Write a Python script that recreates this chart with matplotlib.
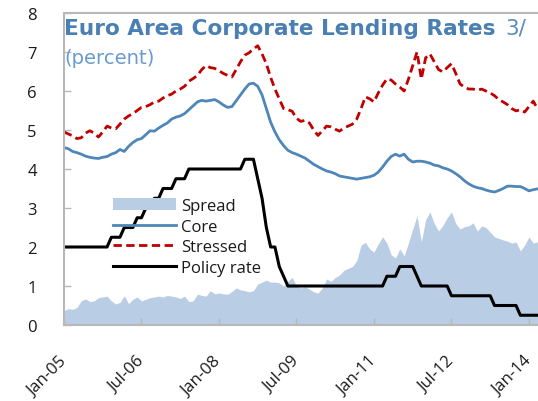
import numpy as np
import matplotlib
matplotlib.use("Agg")
import matplotlib.pyplot as plt

plt.rcParams['font.family'] = ['Open Sans', 'DejaVu Sans']

# Monthly data Jan-2005 .. Mar-2014
months = np.arange(111)

core = [4.55, 4.52, 4.45, 4.42, 4.38, 4.33, 4.30, 4.28, 4.27, 4.30, 4.32, 4.38,
        4.42, 4.50, 4.45, 4.58, 4.68, 4.75, 4.78, 4.88, 4.98, 4.97, 5.05, 5.12,
        5.18, 5.28, 5.33, 5.36, 5.42, 5.52, 5.62, 5.72, 5.76, 5.74, 5.76, 5.78,
        5.72, 5.64, 5.58, 5.60, 5.75, 5.90, 6.05, 6.18, 6.20, 6.12, 5.90, 5.55,
        5.20, 4.95, 4.75, 4.60, 4.48, 4.42, 4.38, 4.33, 4.28, 4.20, 4.12, 4.06,
        4.00, 3.95, 3.92, 3.88, 3.82, 3.80, 3.78, 3.76, 3.74, 3.76, 3.78, 3.80,
        3.84, 3.92, 4.05, 4.20, 4.32, 4.38, 4.33, 4.38, 4.25, 4.18, 4.20, 4.20,
        4.18, 4.15, 4.10, 4.08, 4.03, 4.00, 3.95, 3.88, 3.80, 3.70, 3.62, 3.56,
        3.52, 3.50, 3.46, 3.43, 3.41, 3.45, 3.50, 3.56, 3.56, 3.55, 3.55, 3.50,
        3.44, 3.47, 3.49]

stressed = [4.95, 4.90, 4.85, 4.78, 4.80, 4.92, 4.98, 4.92, 4.82, 4.95, 5.10, 5.05,
            5.03, 5.15, 5.28, 5.36, 5.42, 5.50, 5.58, 5.60, 5.65, 5.72, 5.74, 5.82,
            5.88, 5.92, 6.00, 6.05, 6.12, 6.25, 6.32, 6.40, 6.55, 6.65, 6.60, 6.58,
            6.52, 6.45, 6.40, 6.36, 6.55, 6.75, 6.92, 6.98, 7.08, 7.16, 6.95, 6.70,
            6.35, 6.05, 5.80, 5.55, 5.52, 5.48, 5.30, 5.22, 5.25, 5.18, 5.00, 4.86,
            4.98, 5.10, 5.08, 5.02, 4.97, 5.05, 5.10, 5.15, 5.28, 5.55, 5.85, 5.80,
            5.72, 5.95, 6.15, 6.31, 6.28, 6.18, 6.10, 6.00, 6.30, 6.65, 7.00, 6.31,
            6.85, 6.95, 6.75, 6.55, 6.49, 6.60, 6.70, 6.45, 6.18, 6.10, 6.05, 6.05,
            6.02, 6.05, 6.00, 5.95, 5.88, 5.78, 5.72, 5.65, 5.55, 5.49, 5.52, 5.46,
            5.60, 5.74, 5.54]

spread = [0.37, 0.42, 0.40, 0.45, 0.62, 0.67, 0.60, 0.62, 0.70, 0.72, 0.74, 0.62,
          0.54, 0.58, 0.75, 0.55, 0.66, 0.72, 0.62, 0.66, 0.70, 0.72, 0.74, 0.72,
          0.76, 0.74, 0.72, 0.68, 0.74, 0.60, 0.62, 0.79, 0.76, 0.74, 0.88, 0.80,
          0.82, 0.80, 0.79, 0.86, 0.95, 0.90, 0.88, 0.85, 0.88, 1.05, 1.10, 1.15,
          1.10, 1.10, 1.08, 1.00, 1.12, 1.22, 1.00, 0.95, 0.98, 0.92, 0.85, 0.82,
          0.95, 1.18, 1.12, 1.22, 1.28, 1.40, 1.45, 1.50, 1.65, 2.05, 2.12, 1.95,
          1.87, 2.08, 2.26, 2.10, 1.80, 1.72, 1.95, 1.77, 2.10, 2.46, 2.80, 2.13,
          2.70, 2.90, 2.60, 2.41, 2.55, 2.75, 2.90, 2.60, 2.46, 2.52, 2.54, 2.62,
          2.41, 2.54, 2.50, 2.38, 2.26, 2.22, 2.18, 2.15, 2.10, 2.13, 1.90, 2.05,
          2.26, 2.10, 2.13]

policy = [2.00, 2.00, 2.00, 2.00, 2.00, 2.00, 2.00, 2.00, 2.00, 2.00, 2.00, 2.25,
          2.25, 2.25, 2.50, 2.50, 2.50, 2.75, 2.75, 3.00, 3.00, 3.25, 3.25, 3.50,
          3.50, 3.50, 3.75, 3.75, 3.75, 4.00, 4.00, 4.00, 4.00, 4.00, 4.00, 4.00,
          4.00, 4.00, 4.00, 4.00, 4.00, 4.00, 4.25, 4.25, 4.25, 3.75, 3.25, 2.50,
          2.00, 2.00, 1.50, 1.25, 1.00, 1.00, 1.00, 1.00, 1.00, 1.00, 1.00, 1.00,
          1.00, 1.00, 1.00, 1.00, 1.00, 1.00, 1.00, 1.00, 1.00, 1.00, 1.00, 1.00,
          1.00, 1.00, 1.00, 1.25, 1.25, 1.25, 1.50, 1.50, 1.50, 1.50, 1.25, 1.00,
          1.00, 1.00, 1.00, 1.00, 1.00, 1.00, 0.75, 0.75, 0.75, 0.75, 0.75, 0.75,
          0.75, 0.75, 0.75, 0.75, 0.50, 0.50, 0.50, 0.50, 0.50, 0.50, 0.25, 0.25,
          0.25, 0.25, 0.25]

tick_pos = [0, 18, 36, 54, 72, 90, 108]
tick_labels = ["Jan-05", "Jul-06", "Jan-08", "Jul-09", "Jan-11", "Jul-12", "Jan-14"]

W, H = 538, 402
fig = plt.figure(figsize=(W / 100, H / 100), dpi=100)
ax = fig.add_axes([64 / W, 1 - 326 / H, (W - 64) / W, (326 - 14) / H])

c_spread = '#b9cde5'
c_core = '#4f86b8'
c_stress = '#c00000'

ax.fill_between(months, 0, spread, color=c_spread, lw=0, label='Spread')
ax.plot(months, core, color=c_core, lw=2.0, label='Core')
ax.plot(months, stressed, color=c_stress, lw=2.0, ls=(0, (3, 1.6)), label='Stressed')
ax.plot(months, policy, color='black', lw=2.2, label='Policy rate')

ax.set_xlim(0, 110.1)
ax.set_ylim(0, 8)
ax.set_yticks(range(0, 9))

spine_c = '#b8b8b8'
for s in ['left', 'bottom', 'top']:
    ax.spines[s].set_color(spine_c)
    ax.spines[s].set_linewidth(1.5)
ax.spines['right'].set_visible(False)
ax.tick_params(axis='both', direction='in', length=5, width=1, color=spine_c,
               labelcolor='#1a1a1a', labelsize=12)
ax.tick_params(axis='y', pad=19.5)
ax.tick_params(axis='x', pad=24)
ax.set_xticks(tick_pos)
ax.set_xticklabels(tick_labels, rotation=45, ha='right', va='center',
                   rotation_mode='anchor', fontsize=12)

renderer = fig.canvas.get_renderer()


def fit_text(x0, y_base, s, width_px, **kw):
    t = fig.text(x0 / W, 1 - y_base / H, s, va='baseline', ha='left', fontsize=14, **kw)
    w = t.get_window_extent(renderer).width
    t.set_fontsize(14 * width_px / w)
    return t


title = fit_text(64, 35, "Euro Area Corporate Lending Rates", 434,
                 fontweight='bold', color='#4a7fb3', family=['DejaVu Sans'])
fig.text(505 / W, 1 - 35 / H, "3/", va='baseline', ha='left',
         fontsize=title.get_fontsize(), color='#5b8cc0', family=['DejaVu Sans'])
fit_text(64, 64, "(percent)", 91, color='#6a9bd0', family=['DejaVu Sans'])

leg = ax.legend(loc='upper left', bbox_to_anchor=(113 / W, 1 - 199 / H),
                bbox_transform=fig.transFigure, frameon=False, fontsize=12,
                handlelength=3.8, handletextpad=0.3, labelspacing=0.28,
                borderpad=0, borderaxespad=0, handleheight=0.75)
for t in leg.get_texts():
    t.set_color('#1a1a1a')

fig.canvas.draw()
for lbl in ax.get_xticklabels():
    lbl.set_rotation(45)
    lbl.set_horizontalalignment('right')
    lbl.set_verticalalignment('center')
    lbl.set_rotation_mode('anchor')

fig.savefig('out.png', dpi=100)
